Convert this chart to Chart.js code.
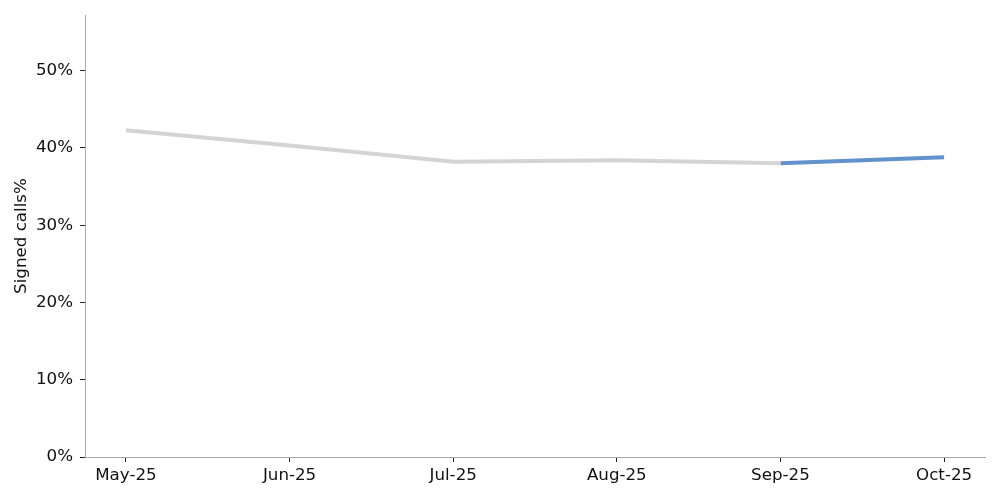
<!DOCTYPE html>
<html>
<head>
<meta charset="utf-8">
<script src="https://cdn.jsdelivr.net/npm/chart.js@4/dist/chart.umd.min.js"></script>
<style>
  html, body { margin: 0; padding: 0; background: #fff; }
  #wrap { width: 1000px; height: 500px; }
</style>
</head>
<body>
<div id="wrap"><canvas id="chart"></canvas></div>
<script>
const months = ['May-25', 'Jun-25', 'Jul-25', 'Aug-25', 'Sep-25', 'Oct-25'];
const signedHistory = [0.423, 0.403, 0.382, 0.384, 0.380, null];
const signedLatest = [null, null, null, null, 0.380, 0.388];
const yTicks = [0, 0.1, 0.2, 0.3, 0.4, 0.5];

const toPoints = arr => arr.map((v, i) => ({ x: i, y: v }));

Chart.defaults.font.family = 'DejaVu Sans';
Chart.defaults.font.size = 16.7;
Chart.defaults.color = '#111';

new Chart(document.getElementById('chart').getContext('2d'), {
    type: 'line',
    data: {
        datasets: [
            {
                label: 'History',
                data: toPoints(signedHistory),
                borderColor: '#d4d4d4',
                borderWidth: 4,
                pointRadius: 0,
                tension: 0
            },
            {
                label: 'Latest',
                data: toPoints(signedLatest),
                borderColor: '#6192cb',
                borderWidth: 4,
                pointRadius: 0,
                tension: 0
            }
        ]
    },
    options: {
        responsive: true,
        maintainAspectRatio: false,
        animation: false,
        layout: { padding: { top: 15, right: 15, left: 0, bottom: 0 } },
        plugins: {
            legend: { display: false },
            tooltip: { enabled: false }
        },
        scales: {
            x: {
                type: 'linear',
                min: -0.25,
                max: 5.25,
                afterBuildTicks: axis => {
                    axis.ticks = months.map((m, i) => ({ value: i }));
                },
                ticks: {
                    callback: v => months[v],
                    padding: 4,
                    maxRotation: 0
                },
                grid: { drawOnChartArea: false, tickLength: 5, tickColor: '#222' },
                border: { color: '#aaa', width: 1 },
                afterFit: axis => {
                    axis.height = 43;
                    axis.paddingLeft = 0;
                    axis.paddingRight = 0;
                }
            },
            y: {
                min: 0,
                max: 0.572,
                afterBuildTicks: axis => {
                    axis.ticks = yTicks.map(v => ({ value: v }));
                },
                ticks: {
                    callback: v => Math.round(v * 100) + '%',
                    padding: 7
                },
                title: {
                    display: true,
                    text: 'Signed calls%',
                    padding: { top: 12, bottom: 4 }
                },
                grid: { drawOnChartArea: false, tickLength: 5, tickColor: '#222' },
                border: { color: '#aaa', width: 1 },
                afterFit: axis => {
                    axis.width = 85;
                    axis.paddingTop = 0;
                    axis.paddingBottom = 0;
                }
            }
        }
    }
});
</script>
</body>
</html>
